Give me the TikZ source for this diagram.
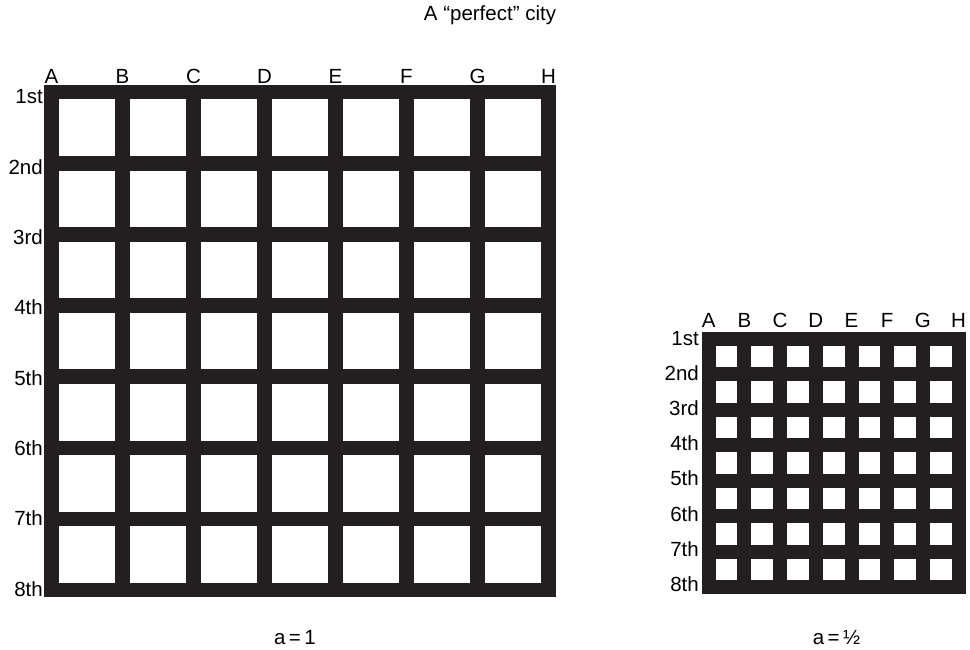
\documentclass[tikz,border=0pt]{standalone}
\usepackage{fontspec}
\setmainfont{Liberation Sans}
\definecolor{ink}{HTML}{231F20}
\tikzset{
  lbl/.style={inner sep=0pt, font=\fontsize{20.5}{24}\selectfont, text=black},
  hole/.style={fill=white, draw=none},
  city/.style={fill=ink, draw=none}
}
\begin{document}
\begin{tikzpicture}[x=1pt,y=-1pt]
\useasboundingbox (0,0) rectangle (970,650);
\node[lbl, anchor=base] (title) at (490,21) {A “perfect” city};
% ---------- left grid a=1 ----------
\def\Lx{44.3}\def\Ly{85}\def\Ls{14.5}\def\Lpx{70.99}\def\Lpy{71.11}
\fill[city] (44.3,85) rectangle (555.7,597.3);
\foreach \i in {0,...,6}{
  \foreach \j in {0,...,6}{
    \fill[hole] ({\Lx+\Ls+\i*\Lpx},{\Ly+\Ls+\j*\Lpy}) rectangle ({\Lx+(\i+1)*\Lpx},{\Ly+(\j+1)*\Lpy});
  }
}
\foreach \c [count=\k from 0] in {A,B,C,D,E,F,G,H}{
  \node[lbl, anchor=base] (Lc\c) at ({\Lx+\Ls/2+\k*\Lpx},84) {\c};
}
\foreach \r [count=\k from 0] in {1st,2nd,3rd,4th,5th,6th,7th,8th}{
  \node[lbl, anchor=base east] (Lr\k) at (43,{104+\k*70.3}) {\r};
}
\node[lbl, anchor=base] (la) at (295,644.3) {a\,=\,1};
% ---------- right grid a=1/2 ----------
\def\Rx{701.7}\def\Ry{331.5}\def\Rs{14}\def\Rpx{35.7}\def\Rpy{35.5}
\fill[city] (701.7,331.5) rectangle (965.7,594);
\foreach \i in {0,...,6}{
  \foreach \j in {0,...,6}{
    \fill[hole] ({\Rx+\Rs+\i*\Rpx},{\Ry+\Rs+\j*\Rpy}) rectangle ({\Rx+(\i+1)*\Rpx},{\Ry+(\j+1)*\Rpy});
  }
}
\foreach \c [count=\k from 0] in {A,B,C,D,E,F,G,H}{
  \node[lbl, anchor=base] (Rc\c) at ({\Rx+\Rs/2+\k*\Rpx},327) {\c};
}
\foreach \r [count=\k from 0] in {1st,2nd,3rd,4th,5th,6th,7th,8th}{
  \node[lbl, anchor=base east] (Rr\k) at (699,{345+\k*35.2}) {\r};
}
\node[lbl, anchor=base] (ra) at (836.5,644.3) {a\,=\,½};
\end{tikzpicture}
\end{document}
